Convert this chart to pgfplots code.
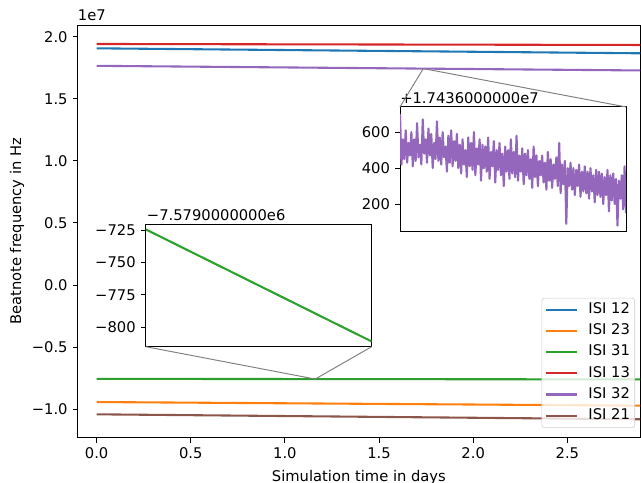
\documentclass[border=0pt]{standalone}
\usepackage{pgfplots}
\pgfplotsset{compat=1.18}
\usepackage{fontspec}
\setmainfont{DejaVu Sans}
\definecolor{c0}{HTML}{1F77B4}
\definecolor{c1}{HTML}{FF7F0E}
\definecolor{c2}{HTML}{2CA02C}
\definecolor{c3}{HTML}{D62728}
\definecolor{c4}{HTML}{9467BD}
\definecolor{c5}{HTML}{8C564B}
\newcommand{\mplfont}{\fontsize{10.6}{12.7}\selectfont}
\pgfplotsset{
  mplstyle/.style={
    scale only axis,
    axis line style={line width=0.7pt},
    tick align=outside, tick pos=left,
    major tick length=3.5pt,
    every tick/.style={black, line width=0.7pt},
    /pgf/number format/assume math mode=true,
    tick label style={font=\mplfont},
  }
}
\begin{document}
\mplfont
\begin{tikzpicture}[every node/.style={font=\mplfont}]
\useasboundingbox (-55.9pt,-32.6pt) rectangle (405.6pt,315.1pt);
\begin{axis}[mplstyle,
  at={(0,0)}, anchor=south west, width=404.9pt, height=297.1pt,
  xmin=-0.1007, xmax=2.886, ymin=-1.230e7, ymax=2.095e7,
  xtick={0,0.5,1,1.5,2,2.5}, xticklabels={0.0,0.5,1.0,1.5,2.0,2.5},
  ytick={-1e7,-0.5e7,0,0.5e7,1e7,1.5e7,2e7},
  yticklabels={−1.0,−0.5,0.0,0.5,1.0,1.5,2.0},
  scaled y ticks=false,
  legend image code/.code={\draw[#1] (0pt,0pt) -- (22pt,0pt);},
  legend style={at={(1,0)}, anchor=south east, xshift=-3.6pt, yshift=7pt,
    draw=black!20, rounded corners=2pt, fill=white, fill opacity=0.8, text opacity=1,
    font=\mplfont, inner sep=2.5pt, row sep=2.9pt, column sep=6.5pt,
    nodes={text height=7.8pt, text depth=2.5pt, inner sep=1pt},
    cells={anchor=west}},
]
\addplot[c0, line width=1.5pt] coordinates {(0,1.907e7) (2.886,1.867e7)};
\addlegendentry{ISI 12}
\addplot[c1, line width=1.5pt] coordinates {(0,-0.943e7) (2.886,-0.972e7)};
\addlegendentry{ISI 23}
\addplot[c2, line width=1.5pt] coordinates {(0,-7.562e6) (2.886,-7.607e6)};
\addlegendentry{ISI 31}
\addplot[c3, line width=1.5pt] coordinates {(0,1.942e7) (2.886,1.934e7)};
\addlegendentry{ISI 13}
\addplot[c4, line width=1.5pt] coordinates {(0,1.766e7) (2.886,1.7287e7)};
\addlegendentry{ISI 32}
\addplot[c5, line width=1.5pt] coordinates {(0,-1.042e7) (2.886,-1.082e7)};
\addlegendentry{ISI 21}
\path (axis cs:1.735,1.74364e7) coordinate (z1);
\path (axis cs:1.161,-7.5797e6) coordinate (z2);
\end{axis}
\node[anchor=west, inner sep=0pt] at (0pt,303.8pt) {1e7};
\node[rotate=90] at (-43.7pt,148.55pt) {Beatnote frequency in Hz};
\node at (202.5pt,-28.5pt) {Simulation time in days};
% inset 1 (ISI 32)
\begin{axis}[mplstyle, name=ins1,
  at={(232.1pt,148.1pt)}, anchor=south west, width=162.7pt, height=90pt,
  axis background/.style={fill=white},
  xmin=0, xmax=159, ymin=45, ymax=740,
  xtick=\empty, ytick={200,400,600},
]
\addplot[c4, line width=1.5pt, line join=round] coordinates {
(0,700) (1,420) (2,560) (3,450) (4,610) (5,430) (6,540) (7,470) (8,600) (9,410)
(10,560) (11,440) (12,650) (13,460) (14,530) (15,420) (16,670) (17,480) (18,560) (19,430)
(20,620) (21,470) (22,590) (23,400) (24,540) (25,450) (26,660) (27,440) (28,570) (29,420)
(30,600) (31,460) (32,520) (33,380) (34,580) (35,430) (36,610) (37,410) (38,550) (39,440)
(40,590) (41,400) (42,530) (43,370) (44,560) (45,420) (46,500) (47,350) (48,570) (49,410)
(50,540) (51,390) (52,600) (53,360) (54,510) (55,420) (56,560) (57,330) (58,530) (59,400)
(60,520) (61,380) (62,570) (63,340) (64,490) (65,410) (66,550) (67,320) (68,500) (69,390)
(70,540) (71,360) (72,480) (73,300) (74,520) (75,380) (76,500) (77,340) (78,560) (79,370)
(80,490) (81,350) (82,580) (83,330) (84,470) (85,380) (86,510) (87,310) (88,480) (89,360)
(90,500) (91,340) (92,450) (93,290) (94,520) (95,350) (96,470) (97,300) (98,440) (99,360)
(100,470) (101,320) (102,430) (103,280) (104,490) (105,330) (106,450) (107,290) (108,420) (109,340)
(110,460) (111,300) (112,540) (113,260) (114,420) (115,310) (116,440) (117,90) (118,400) (119,300)
(120,430) (121,280) (122,400) (123,250) (124,390) (125,300) (126,420) (127,240) (128,380) (129,270)
(130,410) (131,260) (132,380) (133,230) (134,400) (135,270) (136,360) (137,210) (138,390) (139,250)
(140,380) (141,240) (142,370) (143,200) (144,350) (145,250) (146,390) (147,160) (148,360) (149,220)
(150,370) (151,200) (152,340) (153,80) (154,330) (155,230) (156,360) (157,170) (158,410) (159,150)
};
\end{axis}
\node[anchor=west, inner sep=0pt] at (232.1pt,244.6pt) {+1.7436000000e7};
% inset 2 (ISI 31)
\begin{axis}[mplstyle, name=ins2,
  at={(49pt,65.5pt)}, anchor=south west, width=162.7pt, height=88.3pt,
  axis background/.style={fill=white},
  xmin=1.1585, xmax=1.1640, ymin=-815, ymax=-720.4,
  xtick=\empty, ytick={-800,-775,-750,-725},
  yticklabels={−800,−775,−750,−725},
]
\addplot[c2, line width=1.5pt] coordinates {(1.1585,-724.5) (1.1640,-811.0)};
\end{axis}
\node[anchor=west, inner sep=0pt] at (49.7pt,160.3pt) {−7.5790000000e6};
\draw[black!50, line width=0.7pt] (z1) -- (ins1.north west) (z1) -- (ins1.north east);
\draw[black!50, line width=0.7pt] (z2) -- (ins2.south west) (z2) -- (ins2.south east);
\end{tikzpicture}
\end{document}
